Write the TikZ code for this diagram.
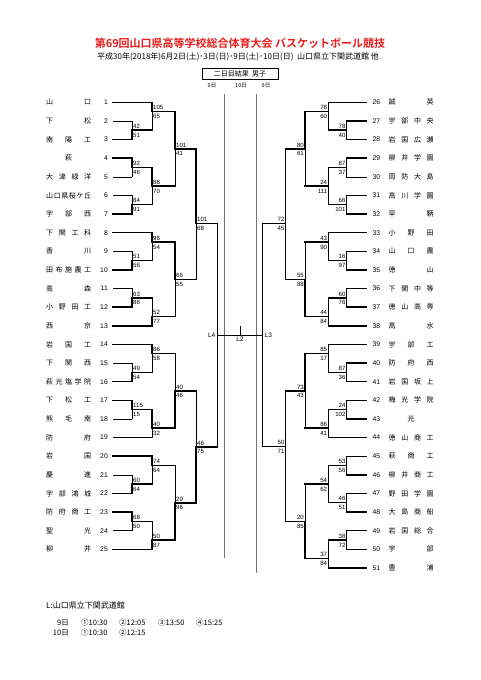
\documentclass[tikz,border=0pt]{standalone}
\usepackage{fontspec}
\setmainfont{Liberation Sans}
\newfontfamily\jp{Noto Sans CJK JP}
\newfontfamily\jpb{Noto Sans CJK JP Bold}
\definecolor{titlered}{RGB}{230,30,30}
\tikzset{
  win/.style={line width=1.5pt, line cap=rect},
  lose/.style={line width=0.6pt, line cap=rect},
  guide/.style={line width=0.6pt, black!55},
  sc/.style={font=\fontsize{6.1}{6}\selectfont, inner sep=0pt},
  scL/.style={sc, anchor=base west},
  scR/.style={sc, anchor=base east},
  tnum/.style={font=\fontsize{6.8}{7}\selectfont, inner sep=0pt},
  tname/.style={font=\jp\fontsize{7}{7}\selectfont, inner sep=0pt},
  lab/.style={font=\fontsize{6.5}{7}\selectfont, inner sep=0pt},
}
\newcommand\lteam[2]{%
  \node[tnum,anchor=east] (ln#1) at (108,{102.3+18.625*(#1-1)}) {#1};
  \node[tname,anchor=west] (lname#1) at (46,{102.3+18.625*(#1-1)}) {\makebox[45pt][s]{#2}};
  \coordinate (t#1) at (113,{102.3+18.625*(#1-1)});}
\newcommand\rteam[2]{%
  \node[tnum,anchor=west] (rn#1) at (372.5,{102.3+18.625*(#1-26)}) {#1};
  \node[tname,anchor=west] (rname#1) at (388.5,{102.3+18.625*(#1-26)}) {\makebox[45pt][s]{#2}};
  \coordinate (t#1) at (366.7,{102.3+18.625*(#1-26)});}
\newcommand\jn[3]{\coordinate (#1) at (#2,#3);}
\newcommand\cn[4]{\draw[#3] (#1) -- (#1 -| #2); \draw[#4] (#1 -| #2) -- (#2);}
\newcommand\scl[3]{\node[scL] (#1u) at ([xshift=1pt,yshift=1.8pt]#1) {#2};
  \node[scL] (#1d) at ([xshift=1pt,yshift=-7pt]#1) {#3};}
\newcommand\scr[3]{\node[scR] (#1u) at ([xshift=-1pt,yshift=1.8pt]#1) {#2};
  \node[scR] (#1d) at ([xshift=-1pt,yshift=-7pt]#1) {#3};}
\begin{document}
\begin{tikzpicture}[x=1pt,y=-1pt]
\useasboundingbox (0,0) rectangle (481,680);
% header
\node[font=\jpb\fontsize{11}{11}\selectfont, text=titlered, inner sep=0pt] (title) at (240,43) {第69回山口県高等学校総合体育大会 バスケットボール競技};
\node[font=\jp\fontsize{8}{8}\selectfont, inner sep=0pt] (sub) at (238,57) {平成30年(2018年)6月2日(土)･3日(日)･9日(土)･10日(日)\ \ 山口県立下関武道館 他};
\node[draw, line width=0.6pt, minimum width=76pt, minimum height=11pt, inner sep=0pt, font=\jp\fontsize{7}{7}\selectfont] (box) at (240,73.5) {二日目結果\ \ 男子};
\node[font=\jp\fontsize{5.5}{6}\selectfont, inner sep=0pt] (d1) at (212,86) {9日};
\node[font=\jp\fontsize{5.5}{6}\selectfont, inner sep=0pt] (d2) at (241,86) {10日};
\node[font=\jp\fontsize{5.5}{6}\selectfont, inner sep=0pt] (d3) at (266,86) {9日};
% guide lines
\coordinate (g1a) at (224,93.5); \coordinate (g1b) at (224,558);
\coordinate (g2a) at (256,93.5); \coordinate (g2b) at (256,573);
\draw[guide] (g1a) -- (g1b);
\draw[guide] (g2a) -- (g2b);
% left teams
\lteam{1}{山\hfill 口}
\lteam{2}{下\hfill 松}
\lteam{3}{南\hfill 陽\hfill 工}
\lteam{4}{\hfill 萩\hfill}
\lteam{5}{大\hfill 津\hfill 緑\hfill 洋}
\lteam{6}{山\hfill 口\hfill 県\hfill 桜\hfill ケ\hfill 丘}
\lteam{7}{宇\hfill 部\hfill 西}
\lteam{8}{下\hfill 関\hfill 工\hfill 科}
\lteam{9}{香\hfill 川}
\lteam{10}{田\hfill 布\hfill 施\hfill 農\hfill 工}
\lteam{11}{高\hfill 森}
\lteam{12}{小\hfill 野\hfill 田\hfill 工}
\lteam{13}{西\hfill 京}
\lteam{14}{岩\hfill 国\hfill 工}
\lteam{15}{下\hfill 関\hfill 西}
\lteam{16}{萩\hfill 光\hfill 塩\hfill 学\hfill 院}
\lteam{17}{下\hfill 松\hfill 工}
\lteam{18}{熊\hfill 毛\hfill 南}
\lteam{19}{防\hfill 府}
\lteam{20}{岩\hfill 国}
\lteam{21}{慶\hfill 進}
\lteam{22}{宇\hfill 部\hfill 鴻\hfill 城}
\lteam{23}{防\hfill 府\hfill 商\hfill 工}
\lteam{24}{聖\hfill 光}
\lteam{25}{柳\hfill 井}
% right teams
\rteam{26}{誠\hfill 英}
\rteam{27}{宇\hfill 部\hfill 中\hfill 央}
\rteam{28}{岩\hfill 国\hfill 広\hfill 瀬}
\rteam{29}{柳\hfill 井\hfill 学\hfill 園}
\rteam{30}{周\hfill 防\hfill 大\hfill 島}
\rteam{31}{高\hfill 川\hfill 学\hfill 園}
\rteam{32}{早\hfill 鞆}
\rteam{33}{小\hfill 野\hfill 田}
\rteam{34}{山\hfill 口\hfill 農}
\rteam{35}{徳\hfill 山}
\rteam{36}{下\hfill 関\hfill 中\hfill 等}
\rteam{37}{徳\hfill 山\hfill 高\hfill 専}
\rteam{38}{高\hfill 水}
\rteam{39}{宇\hfill 部\hfill 工}
\rteam{40}{防\hfill 府\hfill 西}
\rteam{41}{岩\hfill 国\hfill 坂\hfill 上}
\rteam{42}{梅\hfill 光\hfill 学\hfill 院}
\rteam{43}{\hfill 光\hfill}
\rteam{44}{徳\hfill 山\hfill 商\hfill 工}
\rteam{45}{萩\hfill 商\hfill 工}
\rteam{46}{柳\hfill 井\hfill 商\hfill 工}
\rteam{47}{野\hfill 田\hfill 学\hfill 園}
\rteam{48}{大\hfill 島\hfill 商\hfill 船}
\rteam{49}{岩\hfill 国\hfill 総\hfill 合}
\rteam{50}{宇\hfill 部}
\rteam{51}{豊\hfill 浦}
% ---------- left bracket ----------
\jn{a23}{132}{130.2} \cn{t2}{a23}{lose}{lose} \cn{t3}{a23}{win}{win} \scl{a23}{42}{51}
\jn{a1}{152}{111.6} \cn{t1}{a1}{win}{win} \cn{a23}{a1}{win}{lose} \scl{a1}{105}{65}
\jn{a45}{132}{167.5} \cn{t4}{a45}{win}{win} \cn{t5}{a45}{lose}{lose} \scl{a45}{92}{46}
\jn{a67}{132}{204.7} \cn{t6}{a67}{lose}{lose} \cn{t7}{a67}{win}{win} \scl{a67}{84}{91}
\jn{a47}{152}{186.1} \cn{a45}{a47}{win}{win} \cn{a67}{a47}{win}{lose} \scl{a47}{88}{70}
\jn{a17}{175}{148.9} \cn{a1}{a17}{win}{win} \cn{a47}{a17}{win}{lose} \scl{a17}{101}{41}
\jn{a910}{132}{260.6} \cn{t9}{a910}{lose}{lose} \cn{t10}{a910}{win}{win} \scl{a910}{51}{56}
\jn{a8}{152}{242} \cn{t8}{a8}{win}{win} \cn{a910}{a8}{win}{lose} \scl{a8}{98}{54}
\jn{a1112}{132}{297.9} \cn{t11}{a1112}{lose}{lose} \cn{t12}{a1112}{win}{win} \scl{a1112}{63}{86}
\jn{a13}{152}{316.5} \cn{a1112}{a13}{win}{lose} \cn{t13}{a13}{win}{win} \scl{a13}{52}{77}
\jn{a813}{175}{279.3} \cn{a8}{a813}{win}{win} \cn{a13}{a813}{win}{lose} \scl{a813}{66}{55}
\jn{atop}{196}{223.3} \cn{a17}{atop}{win}{win} \cn{a813}{atop}{win}{lose} \scl{atop}{101}{68}
\jn{a1516}{132}{372.4} \cn{t15}{a1516}{lose}{lose} \cn{t16}{a1516}{win}{win} \scl{a1516}{49}{54}
\jn{a14}{152}{353.7} \cn{t14}{a14}{win}{win} \cn{a1516}{a14}{win}{lose} \scl{a14}{86}{58}
\jn{a1718}{132}{409.6} \cn{t17}{a1718}{win}{win} \cn{t18}{a1718}{lose}{lose} \scl{a1718}{115}{15}
\jn{a19}{152}{428.2} \cn{a1718}{a19}{win}{win} \cn{t19}{a19}{lose}{lose} \scl{a19}{40}{32}
\jn{a1419}{175}{390.9} \cn{a14}{a1419}{win}{lose} \cn{a19}{a1419}{win}{win} \scl{a1419}{40}{46}
\jn{a2122}{132}{484.1} \cn{t21}{a2122}{lose}{lose} \cn{t22}{a2122}{win}{win} \scl{a2122}{60}{64}
\jn{a20}{152}{465.5} \cn{t20}{a20}{win}{win} \cn{a2122}{a20}{win}{lose} \scl{a20}{74}{64}
\jn{a2324}{132}{521.4} \cn{t23}{a2324}{win}{win} \cn{t24}{a2324}{lose}{lose} \scl{a2324}{68}{50}
\jn{a25}{152}{540} \cn{a2324}{a25}{win}{lose} \cn{t25}{a25}{win}{win} \scl{a25}{50}{87}
\jn{a2025}{175}{502.8} \cn{a20}{a2025}{win}{lose} \cn{a25}{a2025}{win}{win} \scl{a2025}{29}{96}
\jn{abot}{196}{446.8} \cn{a1419}{abot}{win}{lose} \cn{a2025}{abot}{win}{win} \scl{abot}{46}{75}
\jn{asemi}{217}{335} \cn{atop}{asemi}{win}{lose} \cn{abot}{asemi}{win}{lose}
% ---------- right bracket ----------
\jn{b2728}{346.7}{130.2} \cn{t27}{b2728}{win}{win} \cn{t28}{b2728}{lose}{lose} \scr{b2728}{78}{40}
\jn{b26}{328.3}{111.6} \cn{t26}{b26}{win}{win} \cn{b2728}{b26}{win}{lose} \scr{b26}{78}{60}
\jn{b2930}{346.7}{167.5} \cn{t29}{b2930}{win}{win} \cn{t30}{b2930}{lose}{lose} \scr{b2930}{87}{37}
\jn{b3132}{346.7}{204.7} \cn{t31}{b3132}{lose}{lose} \cn{t32}{b3132}{win}{win} \scr{b3132}{66}{101}
\jn{b2932}{328.3}{186.1} \cn{b2930}{b2932}{win}{lose} \cn{b3132}{b2932}{win}{win} \scr{b2932}{24}{111}
\jn{b2632}{305}{148.9} \cn{b26}{b2632}{win}{win} \cn{b2932}{b2632}{win}{lose} \scr{b2632}{80}{61}
\jn{b3435}{346.7}{260.6} \cn{t34}{b3435}{lose}{lose} \cn{t35}{b3435}{win}{win} \scr{b3435}{16}{97}
\jn{b33}{328.3}{242} \cn{t33}{b33}{lose}{lose} \cn{b3435}{b33}{win}{win} \scr{b33}{43}{90}
\jn{b3637}{346.7}{297.9} \cn{t36}{b3637}{lose}{lose} \cn{t37}{b3637}{win}{win} \scr{b3637}{60}{76}
\jn{b38}{328.3}{316.5} \cn{b3637}{b38}{win}{lose} \cn{t38}{b38}{win}{win} \scr{b38}{44}{84}
\jn{b3338}{305}{279.3} \cn{b33}{b3338}{win}{lose} \cn{b38}{b3338}{win}{win} \scr{b3338}{55}{88}
\jn{btop}{285.7}{223.3} \cn{b2632}{btop}{win}{win} \cn{b3338}{btop}{win}{lose} \scr{btop}{72}{45}
\jn{b4041}{346.7}{372.4} \cn{t40}{b4041}{win}{win} \cn{t41}{b4041}{lose}{lose} \scr{b4041}{87}{36}
\jn{b39}{328.3}{353.7} \cn{t39}{b39}{win}{win} \cn{b4041}{b39}{win}{lose} \scr{b39}{85}{17}
\jn{b4243}{346.7}{409.6} \cn{t42}{b4243}{lose}{lose} \cn{t43}{b4243}{win}{win} \scr{b4243}{24}{102}
\jn{b44}{328.3}{428.2} \cn{b4243}{b44}{win}{win} \cn{t44}{b44}{lose}{lose} \scr{b44}{86}{41}
\jn{b3944}{305}{390.9} \cn{b39}{b3944}{win}{win} \cn{b44}{b3944}{win}{lose} \scr{b3944}{73}{43}
\jn{b4546}{346.7}{465.5} \cn{t45}{b4546}{lose}{lose} \cn{t46}{b4546}{win}{win} \scr{b4546}{53}{56}
\jn{b4748}{346.7}{502.7} \cn{t47}{b4748}{lose}{lose} \cn{t48}{b4748}{win}{win} \scr{b4748}{46}{51}
\jn{b4548}{328.3}{484.1} \cn{b4546}{b4548}{win}{lose} \cn{b4748}{b4548}{win}{win} \scr{b4548}{54}{62}
\jn{b4950}{346.7}{540} \cn{t49}{b4950}{lose}{lose} \cn{t50}{b4950}{win}{win} \scr{b4950}{38}{72}
\jn{b51}{328.3}{558.6} \cn{b4950}{b51}{win}{lose} \cn{t51}{b51}{win}{win} \scr{b51}{37}{84}
\jn{b4551}{305}{521.4} \cn{b4548}{b4551}{win}{lose} \cn{b51}{b4551}{win}{win} \scr{b4551}{20}{85}
\jn{bbot}{285.7}{446.7} \cn{b3944}{bbot}{win}{lose} \cn{b4551}{bbot}{win}{win} \scr{bbot}{50}{71}
\jn{bsemi}{262.7}{335} \cn{btop}{bsemi}{win}{lose} \cn{bbot}{bsemi}{win}{lose}
% final
\draw[lose] (asemi) -- (bsemi);
\coordinate (fin) at (240,335); \coordinate (fintop) at (240,326);
\draw[lose] (fin) -- (fintop);
\node[lab, anchor=east] (L4) at (215.5,335) {L4};
\node[lab, anchor=west] (L3) at (264.5,335) {L3};
\node[lab, anchor=north] (L2) at (240,337) {L2};
% footer
\node[font=\jp\fontsize{8}{8}\selectfont, inner sep=0pt, anchor=west] (venue) at (46,605) {L:山口県立下関武道館};
\tikzset{ft/.style={font=\jp\fontsize{7.5}{8}\selectfont, inner sep=0pt}}
\node[ft, anchor=east] (f9) at (69,623) {9日};
\node[ft, anchor=west] (f9a) at (81,623) {①10:30};
\node[ft, anchor=west] (f9b) at (119,623) {②12:05};
\node[ft, anchor=west] (f9c) at (158,623) {③13:50};
\node[ft, anchor=west] (f9d) at (196,623) {④15:25};
\node[ft, anchor=east] (f10) at (69,633) {10日};
\node[ft, anchor=west] (f10a) at (81,633) {①10:30};
\node[ft, anchor=west] (f10b) at (119,633) {②12:15};
\end{tikzpicture}
\end{document}
